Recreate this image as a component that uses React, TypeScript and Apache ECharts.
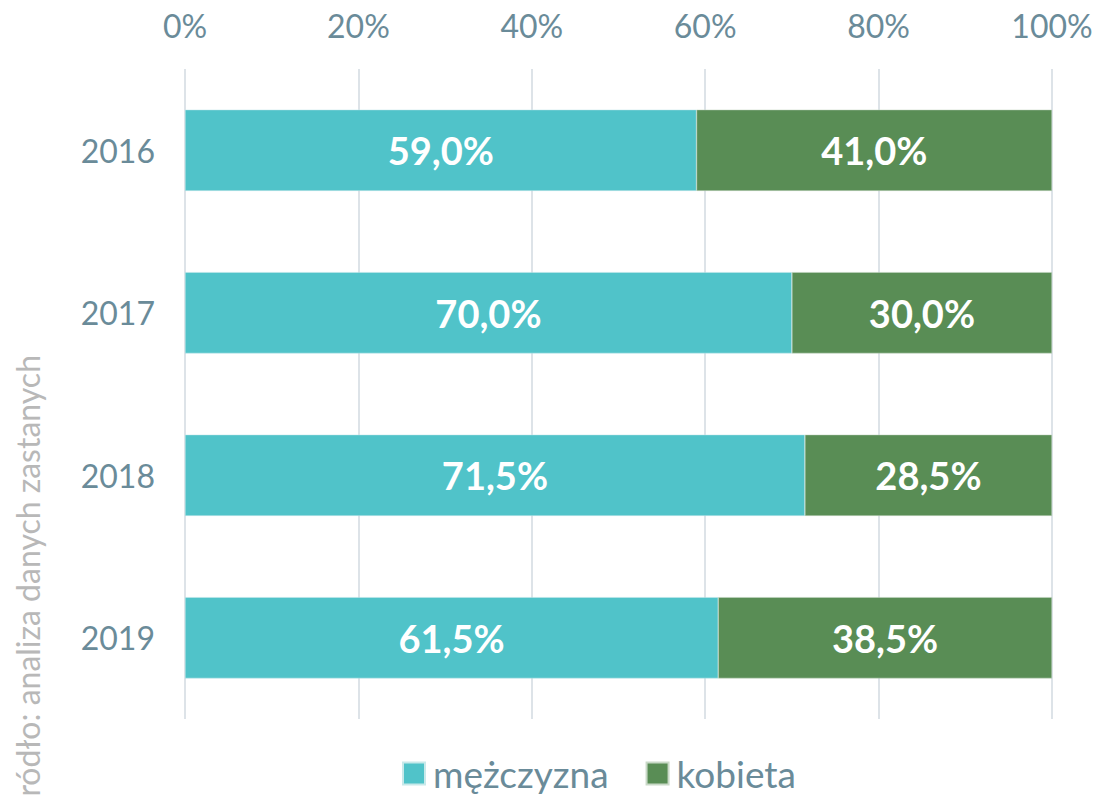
import React, { useEffect, useRef } from "react";
import * as echarts from "echarts";

const years = ["2016", "2017", "2018", "2019"];
const men = [59.0, 70.0, 71.5, 61.5];
const women = [41.0, 30.0, 28.5, 38.5];
const seriesNames = ["mężczyzna", "kobieta"];
const sourceText = "Źródło: analiza danych zastanych";

const fmt = (v: number) => v.toFixed(1).replace(".", ",") + "%";

export default function App() {
  const ref = useRef<HTMLDivElement>(null);
  useEffect(() => {
    document.body.style.margin = "0";
    const chart = echarts.init(ref.current!, undefined, { renderer: "svg" });
    const axisColor = "#6a8b99";
    const font = "Lato";
    const labelCfg = {
      show: true,
      position: "inside",
      color: "#ffffff",
      fontFamily: font,
      fontWeight: "bold",
      fontSize: 38,
      formatter: (p: any) => fmt(p.value),
    };
    chart.setOption({
      animation: false,
      textStyle: { fontFamily: font },
      grid: { left: 185, right: 47, top: 69, bottom: 78, containLabel: false },
      xAxis: {
        type: "value",
        position: "top",
        min: 0,
        max: 100,
        interval: 20,
        axisLine: { show: false },
        axisTick: { show: false },
        axisLabel: {
          formatter: (v: number) => v + "%",
          color: axisColor,
          fontSize: 32,
          fontFamily: font,
          margin: 28,
        },
        splitLine: { lineStyle: { color: "#dde3e8", width: 2 } },
      },
      yAxis: {
        type: "category",
        data: years,
        inverse: true,
        axisLine: { show: false },
        axisTick: { show: false },
        axisLabel: { color: axisColor, fontSize: 32, fontFamily: font, margin: 30 },
      },
      legend: {
        left: 397,
        bottom: 0,
        icon: "rect",
        itemWidth: 22,
        itemHeight: 22,
        itemGap: 37,
        textStyle: { color: axisColor, fontSize: 37, fontFamily: font, padding: [0, 0, 0, 3] },
        data: seriesNames,
      },
      series: [
        {
          name: seriesNames[0],
          type: "bar",
          stack: "total",
          barWidth: "50%",
          data: men,
          itemStyle: { color: "#50c3c9", borderColor: "#c8e9ea", borderWidth: 0.5 },
          label: labelCfg,
        },
        {
          name: seriesNames[1],
          type: "bar",
          stack: "total",
          barWidth: "50%",
          data: women,
          itemStyle: { color: "#598d55", borderColor: "#c9d9c7", borderWidth: 0.5 },
          label: labelCfg,
        },
      ],
      graphic: [
        {
          type: "text",
          x: 27,
          y: 355,
          rotation: Math.PI / 2,
          style: {
            text: sourceText,
            fill: "#b8b8b8",
            fontSize: 32,
            fontFamily: font,
            textAlign: "right",
            textVerticalAlign: "middle",
          },
        },
      ],
    });
    return () => chart.dispose();
  }, []);
  return (
    <div
      ref={ref}
      style={{ position: "absolute", left: 0, top: 0, width: 1099, height: 797 }}
    />
  );
}
